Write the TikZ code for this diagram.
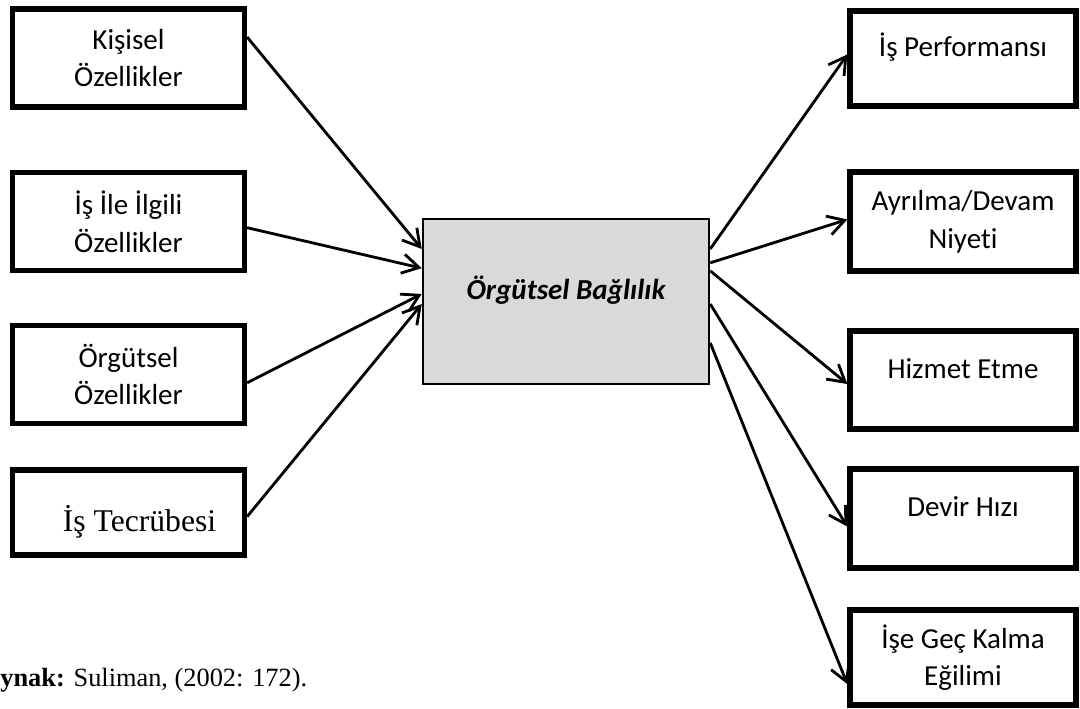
\documentclass[tikz,border=0pt]{standalone}
\usepackage{fontspec}
\setmainfont{Carlito}[Ligatures=NoCommon]
\newfontfamily\timesfont{Liberation Serif}
\usetikzlibrary{arrows.meta}
\definecolor{boxgray}{HTML}{D9D9D9}

\begin{document}
\begin{tikzpicture}[
	>={Straight Barb[length=9.5pt,width=11pt]},
	inbox/.style={draw, line width=3pt, minimum width=4.64cm, minimum height=1.96cm, align=center, font=\fontsize{16.5}{21.4}\selectfont},
	outbox/.style={inbox, minimum width=4.52cm},
	lifted/.style={text height=0.45cm, text depth=0.52cm},
	link/.style={->, line width=1.6pt}
]
	\useasboundingbox (0, 0) rectangle (21.6, 14.18);
	\node[inbox] (kisisel) at (2.57, 13.02) {Kişisel\\Özellikler};
	\node[inbox] (isile) at (2.57, 9.75) {İş İle İlgili\\Özellikler};
	\node[inbox] (orgutsel) at (2.57, 6.69) {Örgütsel\\Özellikler};
	\node[inbox, minimum height=1.7cm, text height=0.9cm, text depth=0.13cm, font=\timesfont\fontsize{18}{22}\selectfont] (tecrube) at (2.57, 3.93) {\hspace*{0.44cm}İş Tecrübesi};
	\node[draw, fill=boxgray, line width=1.4pt, minimum width=5.72cm, minimum height=3.3cm, lifted, font=\bfseries\itshape\fontsize{16.5}{21.4}\selectfont] (bag) at (11.32, 8.15) {Örgütsel Bağlılık};
	\node[outbox, minimum height=1.9cm, lifted] (perf) at (19.26, 13.01) {İş Performansı};
	\node[outbox, minimum height=1.98cm] (ayrilma) at (19.26, 9.75) {Ayrılma/Devam\\Niyeti};
	\node[outbox, lifted] (hizmet) at (19.26, 6.58) {Hizmet Etme};
	\node[outbox, minimum height=1.98cm, lifted] (devir) at (19.26, 3.81) {Devir Hızı};
	\node[outbox, minimum height=1.9cm] (gec) at (19.26, 1.03) {İşe Geç Kalma\\Eğilimi};
	\node[anchor=base west, inner sep=0pt, font=\timesfont\fontsize{15}{18}\selectfont] (kaynak) at (0, 0.44) {\textbf{ynak:} Suliman, (2002: 172).};
	\draw[link] (kisisel.10) -- (bag.160);
	\draw[link] (isile.-3) -- (bag.167);
	\draw[link] (orgutsel.-4) -- (bag.177);
	\draw[link] (tecrube.-2) -- (bag.181);
	\draw[link] (bag.20) -- (perf.178);
	\draw[link] (bag.15) -- (ayrilma.179);
	\draw[link] (bag.12) -- (hizmet.182);
	\draw[link] (bag.-1) -- (devir.184);
	\draw[link] (bag.-16) -- (gec.193);
\end{tikzpicture}
\end{document}
